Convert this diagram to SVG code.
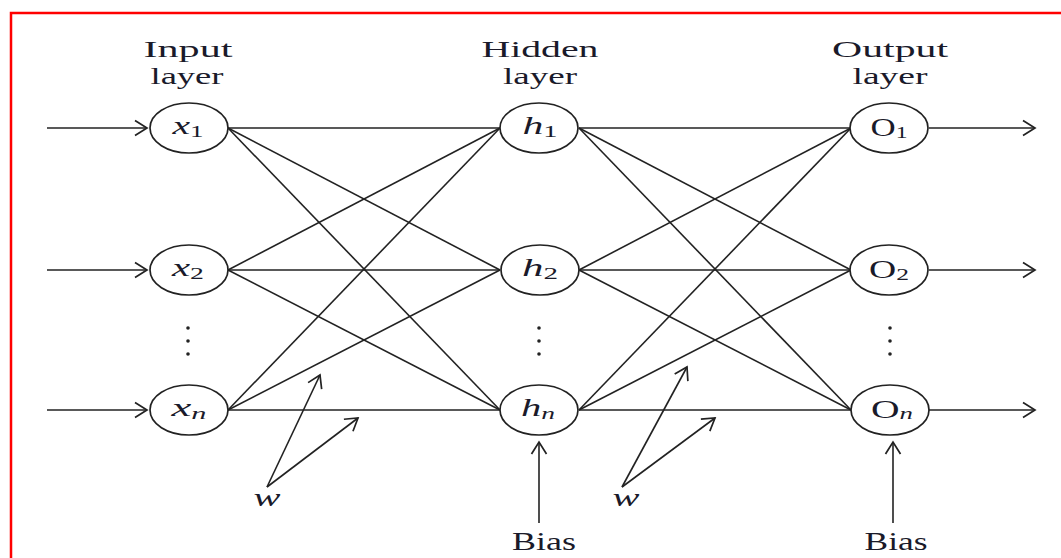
<svg xmlns="http://www.w3.org/2000/svg" width="1061" height="558" viewBox="0 0 1061 558">
<style>
  .node ellipse { fill: #fff; stroke: #222; stroke-width: 1.7; }
  .lbl { font-family: "Liberation Serif", "DejaVu Serif", serif; font-size: 25px; font-style: italic; fill: #1a1a2a; }
  .sub { font-size: 17px; font-style: normal; }
  .subi { font-size: 17px; font-style: italic; }
  .title { font-family: "Liberation Serif", "DejaVu Serif", serif; font-size: 24px; fill: #1a1a2a; text-anchor: middle; }
  .edge { stroke: #222; stroke-width: 1.6; fill: none; }
  .arr { stroke: #222; stroke-width: 1.6; fill: none; marker-end: url(#open); }
  .dot { fill: #222; }
</style>
<defs>
  <marker id="open" markerUnits="userSpaceOnUse" markerWidth="30" markerHeight="30" viewBox="-15 -15 30 30" refX="0" refY="0" orient="auto">
    <path d="M-12,-7.5 L0,0 L-12,7.5" fill="none" stroke="#222" stroke-width="1.7"/>
  </marker>
</defs>
<rect x="11" y="13" width="1070" height="570" fill="none" stroke="#f00" stroke-width="2.5"/>

<g id="titles">
  <text class="title" x="188" y="57" textLength="89" lengthAdjust="spacingAndGlyphs">Input</text>
  <text class="title" x="187" y="84" textLength="73" lengthAdjust="spacingAndGlyphs">layer</text>
  <text class="title" x="540" y="57" textLength="117" lengthAdjust="spacingAndGlyphs">Hidden</text>
  <text class="title" x="540" y="84" textLength="74" lengthAdjust="spacingAndGlyphs">layer</text>
  <text class="title" x="890" y="57" textLength="116" lengthAdjust="spacingAndGlyphs">Output</text>
  <text class="title" x="890" y="84" textLength="75" lengthAdjust="spacingAndGlyphs">layer</text>
</g>

<g id="connectors">
  <line class="edge" x1="228" y1="128" x2="500" y2="128"/>
  <line class="edge" x1="228" y1="128" x2="500" y2="270"/>
  <line class="edge" x1="228" y1="128" x2="500" y2="410"/>
  <line class="edge" x1="228" y1="270" x2="500" y2="128"/>
  <line class="edge" x1="228" y1="270" x2="500" y2="270"/>
  <line class="edge" x1="228" y1="270" x2="500" y2="410"/>
  <line class="edge" x1="228" y1="410" x2="500" y2="128"/>
  <line class="edge" x1="228" y1="410" x2="500" y2="270"/>
  <line class="edge" x1="228" y1="410" x2="500" y2="410"/>
  <line class="edge" x1="579" y1="128" x2="851" y2="128"/>
  <line class="edge" x1="579" y1="128" x2="851" y2="270"/>
  <line class="edge" x1="579" y1="128" x2="851" y2="410"/>
  <line class="edge" x1="579" y1="270" x2="851" y2="128"/>
  <line class="edge" x1="579" y1="270" x2="851" y2="270"/>
  <line class="edge" x1="579" y1="270" x2="851" y2="410"/>
  <line class="edge" x1="579" y1="410" x2="851" y2="128"/>
  <line class="edge" x1="579" y1="410" x2="851" y2="270"/>
  <line class="edge" x1="579" y1="410" x2="851" y2="410"/>
  <line class="arr" x1="47" y1="128" x2="147" y2="128"/>
  <line class="arr" x1="47" y1="270" x2="147" y2="270"/>
  <line class="arr" x1="47" y1="410" x2="147" y2="410"/>
  <line class="arr" x1="929" y1="128" x2="1035" y2="128"/>
  <line class="arr" x1="929" y1="270" x2="1035" y2="270"/>
  <line class="arr" x1="929" y1="410" x2="1035" y2="410"/>
  <line class="arr" x1="539" y1="523" x2="539" y2="442"/>
  <line class="arr" x1="893" y1="523" x2="893" y2="442"/>
  <line class="arr" x1="267" y1="487" x2="320" y2="375"/>
  <line class="arr" x1="267" y1="487" x2="358" y2="418"/>
  <line class="arr" x1="622" y1="487" x2="687" y2="367"/>
  <line class="arr" x1="622" y1="487" x2="715" y2="418"/>
</g>

<g id="x1" class="node"><ellipse cx="189" cy="128" rx="39" ry="25"/><text class="lbl" x="188" y="134" text-anchor="middle" textLength="31" lengthAdjust="spacingAndGlyphs">x<tspan class="sub" dy="3">1</tspan></text></g>
<g id="x2" class="node"><ellipse cx="189" cy="270" rx="39" ry="25"/><text class="lbl" x="188" y="276" text-anchor="middle" textLength="32" lengthAdjust="spacingAndGlyphs">x<tspan class="sub" dy="3">2</tspan></text></g>
<g id="xn" class="node"><ellipse cx="189" cy="410" rx="39" ry="25"/><text class="lbl" x="189" y="416" text-anchor="middle" textLength="35" lengthAdjust="spacingAndGlyphs">x<tspan class="subi" dy="3">n</tspan></text></g>
<g id="h1" class="node"><ellipse cx="539" cy="128" rx="39" ry="25"/><text class="lbl" x="540" y="134" text-anchor="middle" textLength="35" lengthAdjust="spacingAndGlyphs">h<tspan class="sub" dy="3">1</tspan></text></g>
<g id="h2" class="node"><ellipse cx="540" cy="270" rx="39" ry="25"/><text class="lbl" x="540" y="276" text-anchor="middle" textLength="36" lengthAdjust="spacingAndGlyphs">h<tspan class="sub" dy="3">2</tspan></text></g>
<g id="hn" class="node"><ellipse cx="539" cy="410" rx="39" ry="25"/><text class="lbl" x="538" y="416" text-anchor="middle" textLength="34" lengthAdjust="spacingAndGlyphs">h<tspan class="subi" dy="3">n</tspan></text></g>
<g id="o1" class="node"><ellipse cx="889" cy="128" rx="39" ry="25"/><text class="lbl" x="889" y="136" text-anchor="middle" textLength="37" lengthAdjust="spacingAndGlyphs" style="font-style:normal">O<tspan class="sub" dy="2">1</tspan></text></g>
<g id="o2" class="node"><ellipse cx="889" cy="270" rx="39" ry="25"/><text class="lbl" x="889" y="278" text-anchor="middle" textLength="40" lengthAdjust="spacingAndGlyphs" style="font-style:normal">O<tspan class="sub" dy="2">2</tspan></text></g>
<g id="on" class="node"><ellipse cx="890" cy="410" rx="39" ry="25"/><text class="lbl" x="892" y="418" text-anchor="middle" textLength="42" lengthAdjust="spacingAndGlyphs" style="font-style:normal">O<tspan class="subi" dy="1">n</tspan></text></g>

<g id="ellipses">
  <circle class="dot" cx="188" cy="328" r="1.8"/><circle class="dot" cx="188" cy="341" r="1.8"/><circle class="dot" cx="188" cy="354" r="1.8"/>
  <circle class="dot" cx="539" cy="328" r="1.8"/><circle class="dot" cx="539" cy="341" r="1.8"/><circle class="dot" cx="539" cy="354" r="1.8"/>
  <circle class="dot" cx="890" cy="328" r="1.8"/><circle class="dot" cx="890" cy="341" r="1.8"/><circle class="dot" cx="890" cy="354" r="1.8"/>
</g>

<g id="w-left"><text class="lbl" x="267" y="506" text-anchor="middle" textLength="27" lengthAdjust="spacingAndGlyphs">w</text></g>
<g id="w-right"><text class="lbl" x="626" y="506" text-anchor="middle" textLength="27" lengthAdjust="spacingAndGlyphs">w</text></g>
<g id="bias-hidden"><text class="title" x="544" y="550" textLength="64" lengthAdjust="spacingAndGlyphs" style="font-size:25px">Bias</text></g>
<g id="bias-output"><text class="title" x="896" y="550" textLength="63" lengthAdjust="spacingAndGlyphs" style="font-size:25px">Bias</text></g>
</svg>
